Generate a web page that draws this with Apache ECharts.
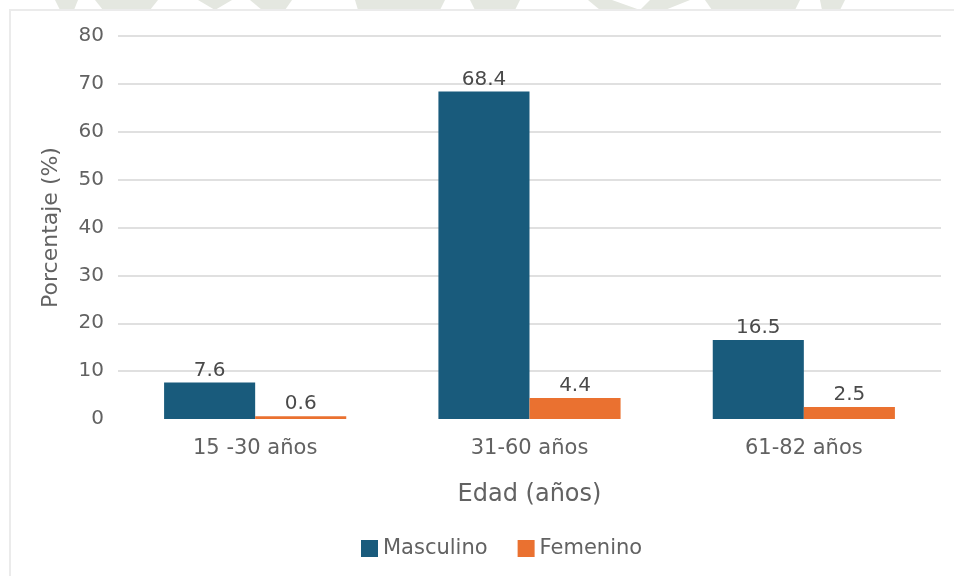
<!DOCTYPE html>
<html>
<head>
<meta charset="utf-8">
<style>
  html, body { margin: 0; padding: 0; background: #ffffff; }
  #chart { width: 954px; height: 576px; }
</style>
<script src="https://cdn.jsdelivr.net/npm/echarts@6/dist/echarts.min.js"></script>
</head>
<body>
<div id="chart"></div>
<script>
// Age groups and the share (%) of each sex within them
const categories = ['15 -30 años', '31-60 años', '61-82 años'];
const seriesNames = ['Masculino', 'Femenino'];
const masculino = [7.6, 68.4, 16.5];
const femenino = [0.6, 4.4, 2.5];

const FONT = 'DejaVu Sans';
const TEXT = '#626262';
const GRID = '#e0e0e0';

const chart = echarts.init(document.getElementById('chart'), null, { renderer: 'canvas' });

// faint banner shapes along the very top edge
const bannerShapes = [
  [[55, 0], [78, 0], [74, 10], [60, 10]],
  [[95, 0], [158, 0], [150, 10], [103, 10]],
  [[198, 0], [232, 0], [215, 10]],
  [[250, 0], [292, 0], [285, 10], [262, 10]],
  [[355, 0], [445, 0], [440, 10], [358, 10]],
  [[470, 0], [520, 0], [515, 10], [475, 10]],
  [[588, 0], [612, 0], [640, 10], [600, 10]],
  [[650, 0], [690, 0], [665, 10], [640, 10]],
  [[705, 0], [800, 0], [795, 10], [712, 10]],
  [[820, 0], [845, 0], [840, 10], [822, 10]]
];

const graphics = bannerShapes.map(pts => ({
  type: 'polygon',
  silent: true,
  shape: { points: pts },
  style: { fill: '#e4e7e0' }
}));
graphics.push({
  type: 'rect',
  silent: true,
  shape: { x: 10, y: 10, width: 960, height: 590 },
  style: { fill: 'none', stroke: '#ebebeb', lineWidth: 2 }
});

const gridColors = [];
for (let i = 0; i <= 8; i++) gridColors.push(i === 0 ? 'rgba(0,0,0,0)' : GRID);

const makeSeries = (name, data, color) => ({
  name: name,
  type: 'bar',
  data: data,
  barWidth: '33.2%',
  barGap: '0%',
  itemStyle: { color: color },
  label: {
    show: true,
    position: 'top',
    distance: 2,
    fontFamily: FONT,
    fontSize: 20,
    color: '#4a4a4a'
  }
});

chart.setOption({
  animation: false,
  backgroundColor: '#ffffff',
  textStyle: { fontFamily: FONT },
  graphic: graphics,
  grid: { left: 118, right: 13, top: 36, bottom: 157, containLabel: false },
  legend: {
    data: seriesNames,
    left: 356,
    top: 533,
    icon: 'rect',
    itemWidth: 17,
    itemHeight: 17,
    itemGap: 30,
    textStyle: { fontFamily: FONT, fontSize: 21, color: TEXT }
  },
  xAxis: {
    type: 'category',
    data: categories,
    axisLine: { show: false },
    axisTick: { show: false },
    axisLabel: { fontFamily: FONT, fontSize: 21, color: TEXT, margin: 19 },
    name: 'Edad (años)',
    nameLocation: 'middle',
    nameGap: 64,
    nameTextStyle: { fontFamily: FONT, fontSize: 24, color: TEXT }
  },
  yAxis: {
    type: 'value',
    min: 0,
    max: 80,
    interval: 10,
    axisLine: { show: false },
    axisTick: { show: false },
    axisLabel: { fontFamily: FONT, fontSize: 20, color: TEXT, margin: 14 },
    splitLine: { show: true, lineStyle: { color: gridColors, width: 2 } },
    name: 'Porcentaje (%)',
    nameLocation: 'middle',
    nameGap: 56,
    nameTextStyle: { fontFamily: FONT, fontSize: 22, color: TEXT }
  },
  series: [
    makeSeries(seriesNames[0], masculino, '#195b7c'),
    makeSeries(seriesNames[1], femenino, '#ea7130')
  ]
});
</script>
</body>
</html>
